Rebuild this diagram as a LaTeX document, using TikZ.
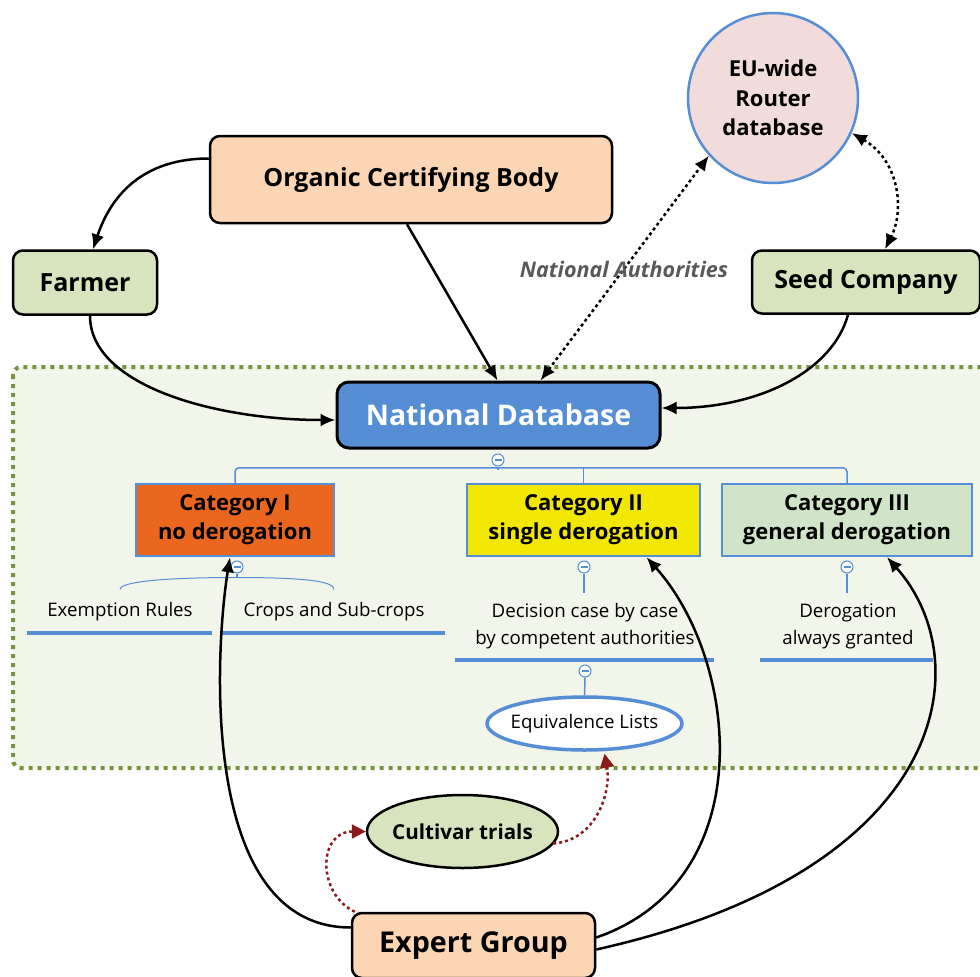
\documentclass[tikz,border=0pt]{standalone}
\usepackage{fontspec}
\setmainfont{Open Sans}
\usetikzlibrary{positioning,calc,arrows.meta,shapes.geometric}

\definecolor{peach}{HTML}{FCD5B5}
\definecolor{farmgreen}{HTML}{D7E4BD}
\definecolor{rosy}{HTML}{F2DCDB}
\definecolor{dbblue}{HTML}{558ED5}
\definecolor{catorange}{HTML}{EB661F}
\definecolor{catyellow}{HTML}{F2E700}
\definecolor{catgreen}{HTML}{D0E4C8}
\definecolor{zonegreen}{HTML}{77933C}
\definecolor{zonefill}{HTML}{F2F5EA}
\definecolor{trialred}{HTML}{8B1A1A}

\begin{document}
\begin{tikzpicture}[
        x=1pt, y=-1pt,
        every node/.style={align=center, inner sep=2pt},
        actor/.style={draw=black, line width=2.5pt, rounded corners=10pt, font=\bfseries\fontsize{25}{28}\selectfont},
        catbox/.style={draw=dbblue, line width=2.5pt, minimum height=72pt, font=\bfseries\fontsize{22}{29}\selectfont},
        oval/.style={ellipse, inner ysep=0pt, inner xsep=-25pt},
        minus/.style={circle, draw=dbblue, fill=white, line width=1pt, minimum size=12pt, inner sep=0pt,
          path picture={\draw[dbblue, line width=1.2pt] ($(path picture bounding box.center)+(-3.5,0)$) -- ++(7,0);}},
        tree/.style={dbblue, line width=1.5pt},
        uline/.style={dbblue, line width=4pt},
        note/.style={font=\fontsize{18.7}{27}\selectfont},
        flow/.style={-{Latex[length=15pt,width=13pt]}, line width=2.5pt},
        link/.style={{Latex[length=15pt,width=13pt]}-{Latex[length=15pt,width=13pt]}, line width=2.5pt, dash pattern=on 3pt off 3pt},
        trial/.style={-{Triangle[length=14pt,width=14pt]}, trialred, line width=2.5pt, dash pattern=on 3pt off 3pt}
      ]
      \useasboundingbox (0,0) rectangle (980,977);
      % national zone
      \draw[zonegreen, line width=4pt, dash pattern=on 4pt off 5pt, fill=zonefill, rounded corners=8pt]
        (13,367) rectangle (1010,768);

      \node[actor, fill=peach, minimum width=402pt, minimum height=87pt] (org) at (411,179.5) {Organic Certifying Body};
      \node[actor, fill=farmgreen, minimum width=144pt, minimum height=64pt] (farmer) at (85,282.5) {Farmer};
      \node[actor, fill=farmgreen, minimum width=228pt, minimum height=63pt] (seed) at (866,282) {Seed Company};
      \node[circle, draw=dbblue, line width=2.5pt, fill=rosy, minimum size=170pt,
            font=\bfseries\fontsize{22}{29.5}\selectfont] (eu) at (773,98) {EU-wide\\Router\\database};
      \node[draw=black, line width=3pt, fill=dbblue, rounded corners=12pt, minimum width=323pt, minimum height=66pt,
            text=white, font=\bfseries\fontsize{28.5}{32}\selectfont] (nd) at (498.5,415) {National Database};

      \node[catbox, fill=catorange, minimum width=198pt] (cat1) at (235,520) {Category I\\no derogation};
      \node[catbox, fill=catyellow, minimum width=233pt] (cat2) at (583.5,520) {Category II\\single derogation};
      \node[catbox, fill=catgreen, minimum width=250pt] (cat3) at (847,520) {Category III\\general derogation};

      \node[note] (exempt) at (120,612) {Exemption Rules};
      \node[note] (crops) at (334,612) {Crops and Sub-crops};
      \node[note] (decide) at (585,626) {Decision case by case\\by competent authorities};
      \node[note] (granted) at (848,626) {Derogation\\always granted};
      \node[note, oval, draw=dbblue, line width=3.5pt, fill=white, minimum width=195pt, minimum height=53pt]
        (equiv) at (584.5,723.5) {Equivalence Lists};

      \node[oval, draw=black, line width=2.5pt, fill=farmgreen, minimum width=191pt, minimum height=73pt,
            font=\bfseries\fontsize{20.6}{24}\selectfont] (trials) at (462.5,831.5) {Cultivar trials};
      \node[actor, fill=peach, minimum width=243pt, minimum height=65pt,
            font=\bfseries\fontsize{28.7}{32}\selectfont] (expert) at (473.5,945.5) {Expert Group};

      % tree
      \node[minus] (mnd) at (498,460) {};
      \node[minus] (m1) at (237,567) {};
      \node[minus] (m2) at (584,567) {};
      \node[minus] (m3) at (847,567) {};
      \node[minus] (m4) at (585,671) {};
      \draw[tree, rounded corners=4pt] (cat1.north) -- ++(0,-15) -| (cat3.north);
      \draw[tree, rounded corners=4pt] (cat2.north) -- ++(0,-15);
      \draw[tree] (mnd.south) -- ++(0,3);
      \draw[tree, line width=1pt] ($(exempt.north)+(0,-11)$) .. controls +(0,-8) and +(-70,0) .. ($(m1.south)+(0,4)$)
        .. controls +(70,0) and +(0,-8) .. ($(crops.north)+(0,-11)$);
      \draw[tree] (m1.south) -- ++(0,4);
      \draw[tree] (m2.south) -- ++(0,19);
      \draw[tree] (m3.south) -- ++(0,19);
      \draw[tree] (m4.south) -- (equiv.north);
      \draw[uline] ($(exempt.center)+(-93,21)$) -- ++(185,0);
      \draw[uline] ($(crops.center)+(-112,21)$) -- ++(223,0);
      \draw[uline] ($(decide.center)+(-130,34)$) -- ++(259,0);
      \draw[uline] ($(granted.center)+(-88,34)$) -- ++(173,0);

      % arrows
      \draw[flow] ($(org.west)+(0,-21)$) .. controls +(-60,0) and +(20,-60) .. ($(farmer.north)+(8,0)$);
      \draw[flow] ($(org.south)+(-4,0)$) -- ($(nd.north)+(-1,0)$);
      \draw[flow] ($(farmer.south)+(5,0)$) .. controls +(0,70) and +(-120,0) .. ($(nd.west)+(0,5)$);
      \draw[flow] ($(seed.south)+(-18,0)$) .. controls +(-15,55) and +(100,0) .. ($(nd.east)+(0,-7)$);
      \draw[link] ($(nd.north)+(42,0)$) -- (eu.222);
      \draw[link] (eu.336) .. controls +(47,27) and +(20,-40) .. ($(seed.north)+(19,0)$);
      \node[text=black!65, font=\bfseries\itshape\fontsize{21.5}{24}\selectfont] (auth) at (624,269) {National Authorities};

      \draw[flow] ($(expert.west)+(0,-18)$) .. controls +(-152,0) and +(-15,93) .. ($(cat1.south)+(-5,0)$);
      \draw[flow] ($(expert.east)+(0,-8)$) .. controls +(165,-57) and +(93,104) .. ($(cat2.south)+(63,0)$);
      \draw[flow] ($(expert.east)+(0,4)$) .. controls +(355,-79) and +(93,104) .. ($(cat3.south)+(40,0)$);
      \draw[trial] ($(expert.north west)+(4,0)$) .. controls +(-38,-18) and +(-48,0) .. (trials.west);
      \draw[trial] ($(trials.east)+(-6,12)$) .. controls +(43,-3) and +(7,38) .. ($(equiv.south)+(20,2)$);
    \end{tikzpicture}
\end{document}
